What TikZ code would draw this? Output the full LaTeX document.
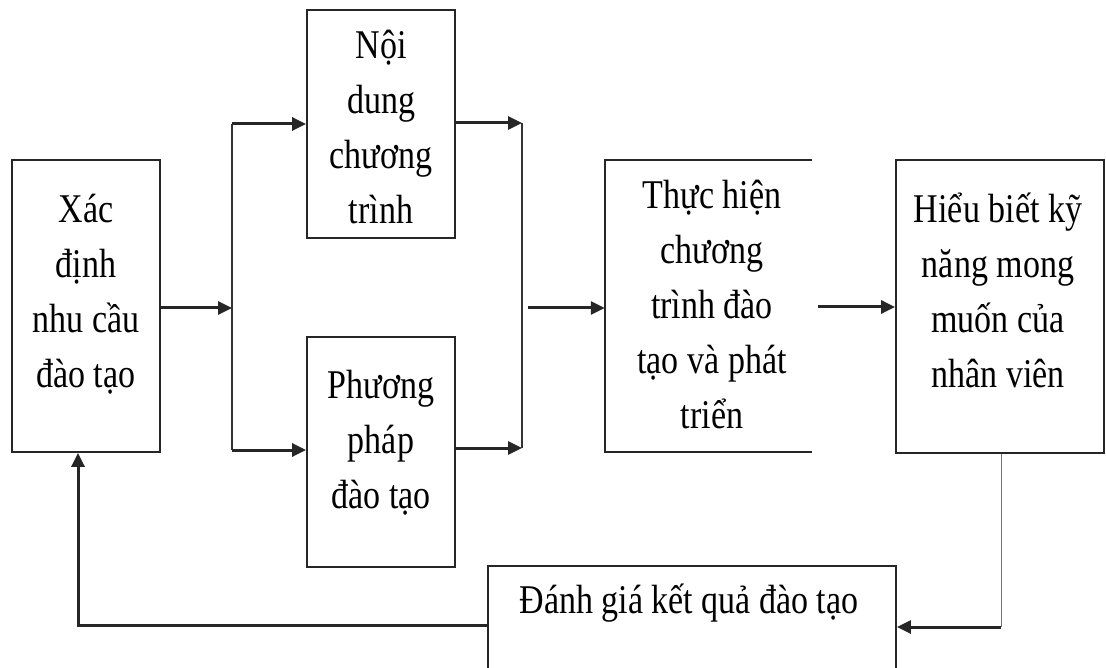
\documentclass[tikz,border=0pt]{standalone}
\usepackage{graphicx}
\usepackage{fontspec}
\setmainfont{Liberation Serif}
\usetikzlibrary{arrows.meta}
% text block set in tall, slightly narrow lettering
\newcommand\tallstack[1]{\scalebox{1}[1.2]{\begin{tabular}{@{}c@{}}#1\end{tabular}}}
\tikzset{
  x=1pt, y=-1pt,
  box/.style={draw=black!85, line width=1.8pt, inner sep=0pt},
  openbox/.style={inner sep=0pt},
  label/.style={anchor=north, inner sep=0pt,
    font=\fontsize{34}{45.8}\selectfont},
  arr/.style={line width=3pt, draw=black!85,
    -{Triangle[length=14pt,width=13pt]}},
  rail/.style={line width=1.6pt, draw=black!80},
  fine/.style={line width=1pt, draw=black!55}
}
\begin{document}
\begin{tikzpicture}
\useasboundingbox (0,0) rectangle (1106,668);

% process boxes
\node[box, minimum width=148pt, minimum height=292pt] (a) at (86,306) {};
\node[box, minimum width=148pt, minimum height=228pt] (b) at (381,124) {};
\node[box, minimum width=148pt, minimum height=230pt] (c) at (381,452) {};
\node[openbox, minimum width=207pt, minimum height=292pt] (d) at (708.5,306) {};
\draw[line width=1.8pt, draw=black!85] (d.north east) -- (d.north west) -- (d.south west) -- (d.south east);
\node[box, minimum width=208pt, minimum height=293pt] (e) at (1000,306.5) {};
\node[box, minimum width=408pt, minimum height=104pt] (f) at (692,618) {};

% box texts
\node[label] (ta) at (86,183.5) {\tallstack{Xác\\định\\nhu cầu\\đào tạo}};
\node[label] (tb) at (381,19.5) {\tallstack{Nội\\dung\\chương\\trình}};
\node[label] (tc) at (381,359.5) {\tallstack{Phương\\pháp\\đào tạo}};
\node[label] (td) at (712,169.5) {\tallstack{Thực hiện\\chương\\trình đào\\tạo và phát\\triển}};
\node[label] (te) at (998,183.5) {\tallstack{Hiểu biết kỹ\\năng mong\\muốn của\\nhân viên}};
\node[label] (tf) at (689,574.5) {\tallstack{Đánh giá kết quả đào tạo}};

% junction points
\coordinate (j1) at (232,308);
\coordinate (j2) at (232,124);
\coordinate (j3) at (232,450);
\coordinate (k1) at (522,123);
\coordinate (k2) at (522,448);
\coordinate (m)  at (528,308);
\coordinate (n)  at (818,307);
\coordinate (p)  at (1001,627);
\coordinate (q)  at (78,625);

% split towards the two design boxes
\draw[arr] (a.east |- j1) -- (j1);
\draw[rail] (j2) -- (j3);
\draw[arr] (j2) -- (b.west |- j2);
\draw[arr] (j3) -- (c.west |- j3);

% merge into implementation
\draw[arr] (b.east |- k1) -- (k1);
\draw[arr] (c.east |- k2) -- (k2);
\draw[rail] (k1) -- (k2);
\draw[arr] (m) -- (d.west |- m);
\draw[arr] (n) -- (e.west |- n);

% feedback loop
\draw[fine] (e.south -| p) -- (p);
\draw[arr] (p) -- (f.east |- p);
\draw[arr] (f.west |- q) -- (q) -- (q |- a.south);
\end{tikzpicture}
\end{document}
